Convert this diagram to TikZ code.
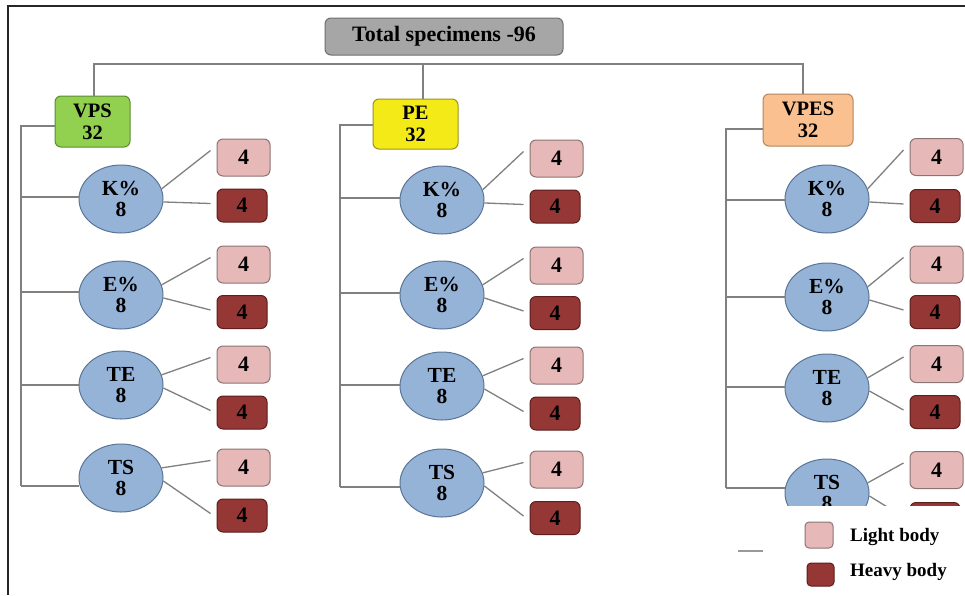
\documentclass[tikz,border=0pt]{standalone}
\usepackage{fontspec}
\setmainfont{Liberation Serif}
\usetikzlibrary{shapes.geometric}

\definecolor{framecol}{HTML}{262626}
\definecolor{linegray}{HTML}{808080}
\definecolor{totalfill}{HTML}{A6A6A6}
\definecolor{totaldraw}{HTML}{6E6E6E}
\definecolor{vpsfill}{HTML}{92D050}
\definecolor{vpsdraw}{HTML}{5E8A33}
\definecolor{pefill}{HTML}{F4EA18}
\definecolor{pedraw}{HTML}{9A9320}
\definecolor{vpesfill}{HTML}{FAC08F}
\definecolor{vpesdraw}{HTML}{B08660}
\definecolor{ellfill}{HTML}{95B3D7}
\definecolor{elldraw}{HTML}{5A7595}
\definecolor{lightfill}{HTML}{E6B9B8}
\definecolor{lightdraw}{HTML}{8C7473}
\definecolor{heavyfill}{HTML}{953735}
\definecolor{heavydraw}{HTML}{5C1F1E}

% one column of tests: #1 prefix, #2 trunk x, #3 ellipse x, #4 light x, #5 heavy x, #6 list
% list entries: name/label/ellipse y/branch y/light y/heavy y/heavy text
\newcommand{\testcolumn}[6]{%
  \foreach \n/\lbl/\ey/\by/\ly/\hy/\htxt in {#6} {
    \node[testnode] (#1\n) at (#3,\ey) {\lbl\\8};
    \node[lightbox] (#1\n L) at (#4,\ly) {4};
    \node[heavybox] (#1\n H) at (#5,\hy) {\htxt};
    \coordinate (#1\n b) at (#2,\by);
    \draw[link] (#1\n b) -- (#1\n.west |- #1\n b);
    \draw[link] (#1\n.14) -- ([xshift=-6pt,yshift=7pt]#1\n L.west);
    \draw[link] (#1\n.-4) -- ([xshift=-6pt,yshift=2pt]#1\n H.west);
  }%
}

\begin{document}
\begin{tikzpicture}[x=1pt,y=-1pt,
  every node/.style={font=\bfseries\fontsize{21.5}{21}\selectfont, align=center,
    inner sep=0pt, text=black},
  link/.style={draw=linegray, line width=1.3pt},
  frameline/.style={draw=framecol, line width=1.5pt},
  box/.style={rectangle, rounded corners=6pt, line width=1pt},
  totalbox/.style={box, fill=totalfill, draw=totaldraw, minimum width=238pt,
    minimum height=37pt, font=\bfseries\fontsize{22}{24}\selectfont},
  groupbox/.style={box, minimum height=51pt, font=\bfseries\fontsize{20.5}{22}\selectfont},
  testnode/.style={ellipse, fill=ellfill, draw=elldraw, line width=1pt,
    minimum width=84pt, minimum height=68pt},
  digit/.style={font=\bfseries\fontsize{22}{22}\selectfont},
  lightbox/.style={box, digit, fill=lightfill, draw=lightdraw, minimum width=53pt, minimum height=37pt},
  heavybox/.style={box, digit, fill=heavyfill, draw=heavydraw, minimum width=50pt, minimum height=33pt},
  swatch/.style={rectangle, rounded corners=4pt, line width=1pt},
  legendtext/.style={anchor=west, font=\bfseries\fontsize{19}{20}\selectfont}
]
\useasboundingbox (0,0) rectangle (965,595);
\fill[white] (0,0) rectangle (965,595);

% outer frame (top and left edges)
\draw[frameline] (8,595) -- (8,6) -- (965,6);

% root and the three material groups
\node[totalbox] (total) at (444,36.5) {Total specimens -96};
\node[groupbox, fill=vpsfill, draw=vpsdraw, minimum width=75pt] (vps) at (92.5,121.5) {VPS\\32};
\node[groupbox, fill=pefill, draw=pedraw, minimum width=85pt, minimum height=50pt] (pe) at (415.5,124) {PE\\32};
\node[groupbox, fill=vpesfill, draw=vpesdraw, minimum width=90pt, minimum height=52pt] (vpes) at (808,120) {VPES\\32};

\coordinate (busL) at (94,64);
\coordinate (busR) at (803,64);
\draw[link] ([xshift=1.5pt]vps.north) -- (busL) -- (busR) -- ([xshift=-5pt]vpes.north);
\draw[link] ([xshift=7.5pt]pe.north) -- ([xshift=7.5pt]pe.north |- busL);

% VPS column
\coordinate (t1) at (21,126);
\coordinate (e1) at (21,486);
\draw[link] (vps.west |- t1) -- (t1) -- (e1);
\testcolumn{a}{21}{121}{243.5}{242}{K/K\%/199/197/157.5/205.5/4, E/E\%/295/292/264.5/312/4, TE/TE/385/385/364.5/412.5/4, TS/TS/478/486/467.5/515.5/4}

% PE column
\coordinate (t2) at (340,125);
\coordinate (e2) at (340,487);
\draw[link] (pe.west |- t2) -- (t2) -- (e2);
\testcolumn{b}{340}{442}{556.5}{555}{K/K\%/200/198/158.5/206.5/4, E/E\%/295/293/265.5/313/4, TE/TE/386/385/365.5/413.5/4, TS/TS/483/487/469.5/518/4}

% VPES column (its last heavy box runs under the legend panel)
\coordinate (t3) at (726,129);
\coordinate (e3) at (726,488);
\draw[link] (vpes.west |- t3) -- (t3) -- (e3);
\testcolumn{c}{726}{827}{936.5}{935}{K/K\%/199/200/157/206/4, E/E\%/297/297/264.5/312/4, TE/TE/388/387/364/412/4, TS/TS/493/488/470/519/{}}

% legend panel laid over the lower right corner
\fill[white] (735,506) rectangle (965,595);
\draw[draw=linegray!80, line width=1.2pt] (738,551) -- (763,551);
\node[swatch, fill=lightfill, draw=lightdraw, minimum width=28pt, minimum height=26pt] (lgL) at (819,535) {};
\node[swatch, fill=heavyfill, draw=heavydraw, minimum width=27pt, minimum height=23pt] (lgH) at (820.5,574.5) {};
\node[legendtext] (lgLt) at (850,537) {Light body};
\node[legendtext] (lgHt) at (850,572) {Heavy body};
\end{tikzpicture}
\end{document}
